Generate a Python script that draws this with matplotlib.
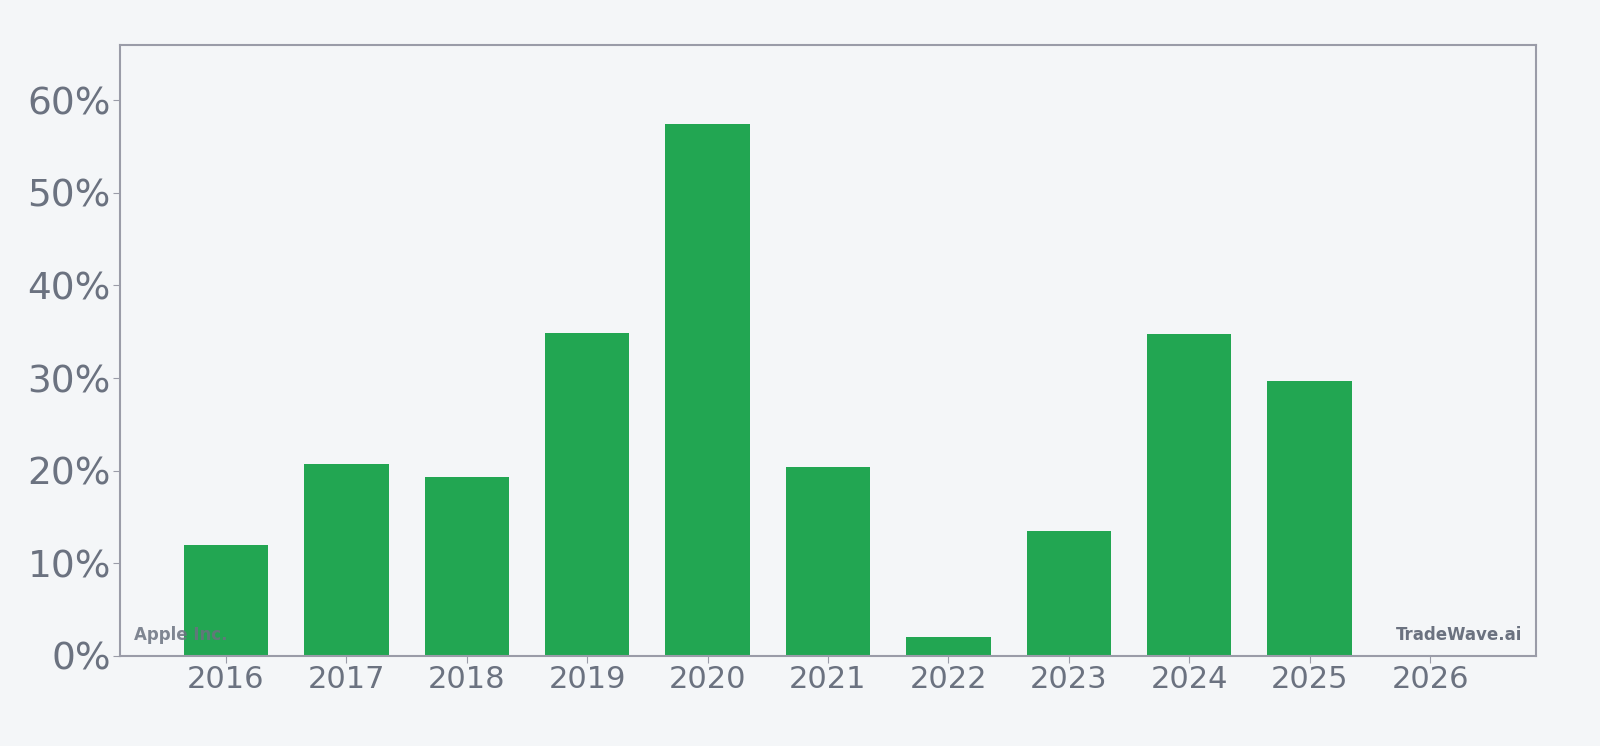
import matplotlib
matplotlib.use("Agg")
import matplotlib.pyplot as plt
from matplotlib.ticker import FuncFormatter

# --- données ---
years = [2016, 2017, 2018, 2019, 2020, 2021, 2022, 2023, 2024, 2025, 2026]
growth = [12.0, 20.7, 19.3, 34.9, 57.4, 20.4, 2.0, 13.5, 34.8, 29.7, 0.0]
tick_labels = [str(y) for y in years]

bg = "#f4f6f8"
green = "#22a652"
grey = "#6b7280"
spine = "#9a9ca8"

fig = plt.figure(figsize=(16, 7.46), dpi=100, facecolor=bg)
ax = fig.add_axes([0.075, 0.121, 0.885, 0.819])
ax.set_facecolor(bg)

x = list(range(len(years)))
ax.bar(x, growth, width=0.7, color=green, zorder=2)

ax.set_xlim(-0.88, len(years) - 1 + 0.88)
ax.set_ylim(0, 66)
ax.set_xticks(x)
ax.set_xticklabels(tick_labels)
ax.set_yticks(range(0, 61, 10))
ax.yaxis.set_major_formatter(FuncFormatter(lambda v, p: f"{v:.0f}%"))

ax.tick_params(axis="x", colors=spine, labelcolor=grey, labelsize=22, length=5, pad=2)
ax.tick_params(axis="y", colors=spine, labelcolor=grey, labelsize=27, length=5, pad=1.5)

for s in ax.spines.values():
    s.set_color(spine)
    s.set_linewidth(1.5)

# --- filigranes ---
ax.text(0.01, 0.02, "Apple Inc.", transform=ax.transAxes, fontsize=12,
        fontweight="bold", color=grey, alpha=0.85, ha="left", va="bottom", zorder=3)
ax.text(0.99, 0.02, "TradeWave.ai", transform=ax.transAxes, fontsize=12,
        fontweight="bold", color=grey, ha="right", va="bottom", zorder=3)

fig.savefig("out.png", dpi=100, facecolor=bg)
